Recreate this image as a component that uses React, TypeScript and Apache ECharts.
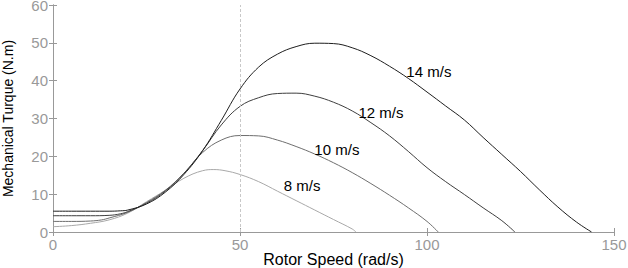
import React, { useEffect, useRef } from "react";
import * as echarts from "echarts";

const xTicks = [0, 50, 100, 150];
const yTicks = [0, 10, 20, 30, 40, 50, 60];

const speed8 = [0, 5, 10, 15, 20, 25, 30, 35, 40, 43, 46, 50, 55, 60, 65, 70, 75, 80, 81];
const torque8 = [1.4, 1.7, 2.3, 3.2, 5, 8, 11, 14.2, 16.2, 16.5, 16.2, 15.2, 13.3, 10.8, 8.3, 5.8, 3.3, 0.8, 0];

const speed10 = [0, 5, 10, 13, 15, 20, 25, 30, 35, 40, 45, 50, 55, 60, 65, 70, 75, 80, 85, 90, 95, 100, 103];
const torque10 = [2.8, 2.8, 2.9, 3.2, 3.7, 5.2, 7.8, 11, 15.5, 21, 24.3, 25.5, 25.4, 24.3, 22.6, 20.6, 18.3, 15.7, 12.8, 9.7, 6.4, 2.8, 0];

const speed12 = [0, 5, 10, 15, 18, 20, 25, 30, 35, 40, 45, 50, 55, 60, 65, 70, 75, 80, 85, 90, 95, 100, 105, 110, 115, 120, 123.5];
const torque12 = [4.3, 4.3, 4.3, 4.4, 4.8, 5.4, 7.6, 10.8, 15.5, 21.5, 28.3, 33.2, 35.5, 36.6, 36.7, 35.9, 34.3, 32, 28.9, 25.4, 21.3, 17, 13.3, 9.9, 6.4, 3, 0];

const speed14 = [0, 5, 10, 15, 18, 20, 25, 30, 35, 40, 45, 50, 55, 60, 65, 70, 75, 80, 85, 90, 95, 100, 105, 110, 115, 120, 125, 130, 135, 140, 144];
const torque14 = [5.5, 5.5, 5.5, 5.5, 5.6, 5.8, 7.4, 10.5, 15.2, 21.5, 29.5, 37.8, 43.6, 47, 49, 49.9, 49.8, 48.7, 46.6, 43.8, 40.6, 37, 33.3, 29.6, 25, 20.5, 16, 11.2, 6.6, 2.6, 0];

const seriesNames = ["8 m/s", "10 m/s", "12 m/s", "14 m/s"];
const labelSpeed = [66.6, 75.9, 87.7, 100.5];
const labelTorque = [12.2, 21.7, 31.5, 42.3];
const refSpeed = 50;

const zip = (xs: number[], ys: number[]) => xs.map((x, i) => [x, ys[i]]);

export default function App() {
  const ref = useRef<HTMLDivElement>(null);
  useEffect(() => {
    if (!ref.current) return;
    const chart = echarts.init(ref.current, undefined, { renderer: "svg" });
    const font = "'Liberation Sans', Arial, sans-serif";
    const colors = ["#a8a8a8", "#6e6e6e", "#3e3e3e", "#1e1e1e"];
    const data = [zip(speed8, torque8), zip(speed10, torque10), zip(speed12, torque12), zip(speed14, torque14)];
    chart.setOption({
      animation: false,
      grid: { left: 53, right: 14, top: 5, bottom: 36, containLabel: false, outerBoundsMode: "none" },
      xAxis: [
        {
          type: "value", min: 0, max: 150, interval: 50,
          name: "Rotor Speed (rad/s)", nameLocation: "middle", nameGap: 19, nameMoveOverlap: false,
          nameTextStyle: { color: "#000", fontSize: 16, fontFamily: font },
          axisLine: { lineStyle: { color: "#999" } },
          axisTick: { inside: true, length: 4, lineStyle: { color: "#999" } },
          axisLabel: { color: "#999", fontSize: 15, fontFamily: font, margin: 5,
            formatter: (v: number) => (xTicks.includes(v) ? String(v) : "") },
          splitLine: { show: false },
        },
        {
          type: "value", min: 0, max: 150, interval: 50, position: "top",
          axisLine: { lineStyle: { color: "#999" } },
          axisTick: { inside: true, length: 4, lineStyle: { color: "#999" } },
          axisLabel: { show: false }, splitLine: { show: false },
        },
      ],
      yAxis: [
        {
          type: "value", min: 0, max: 60, interval: 10,
          name: "Mechanical Turque (N.m)", nameLocation: "middle", nameGap: 38, nameMoveOverlap: false,
          nameTextStyle: { color: "#000", fontSize: 14, fontFamily: font },
          axisLine: { lineStyle: { color: "#888" } },
          axisTick: { inside: true, length: 4, lineStyle: { color: "#999" } },
          axisLabel: { color: "#999", fontSize: 15, fontFamily: font, margin: 5,
            formatter: (v: number) => (yTicks.includes(v) ? String(v) : "") },
          splitLine: { show: false },
        },
        {
          type: "value", min: 0, max: 60, interval: 10, position: "right",
          axisLine: { lineStyle: { color: "#999" } },
          axisTick: { inside: true, length: 4, lineStyle: { color: "#999" } },
          axisLabel: { show: false }, splitLine: { show: false },
        },
      ],
      series: seriesNames.map((name, i) => ({
        name,
        type: "line",
        data: data[i],
        smooth: 0.4,
        showSymbol: false,
        lineStyle: { color: colors[i], width: 1 },
        silent: true,
        markPoint: {
          symbol: "circle",
          symbolSize: 0,
          silent: true,
          data: [{ coord: [labelSpeed[i], labelTorque[i]] }],
          label: { show: true, position: "inside", formatter: name, color: "#000", fontSize: 15, fontFamily: font },
        },
        markLine: i === 0 ? {
          silent: true,
          symbol: ["none", "none"],
          label: { show: false },
          lineStyle: { color: "#c8c8c8", type: [3, 2], width: 1 },
          data: [{ xAxis: refSpeed }],
        } : undefined,
      })),
    });
    return () => chart.dispose();
  }, []);
  return <div ref={ref} style={{ position: "absolute", left: 0, top: 0, width: 628, height: 268 }} />;
}
